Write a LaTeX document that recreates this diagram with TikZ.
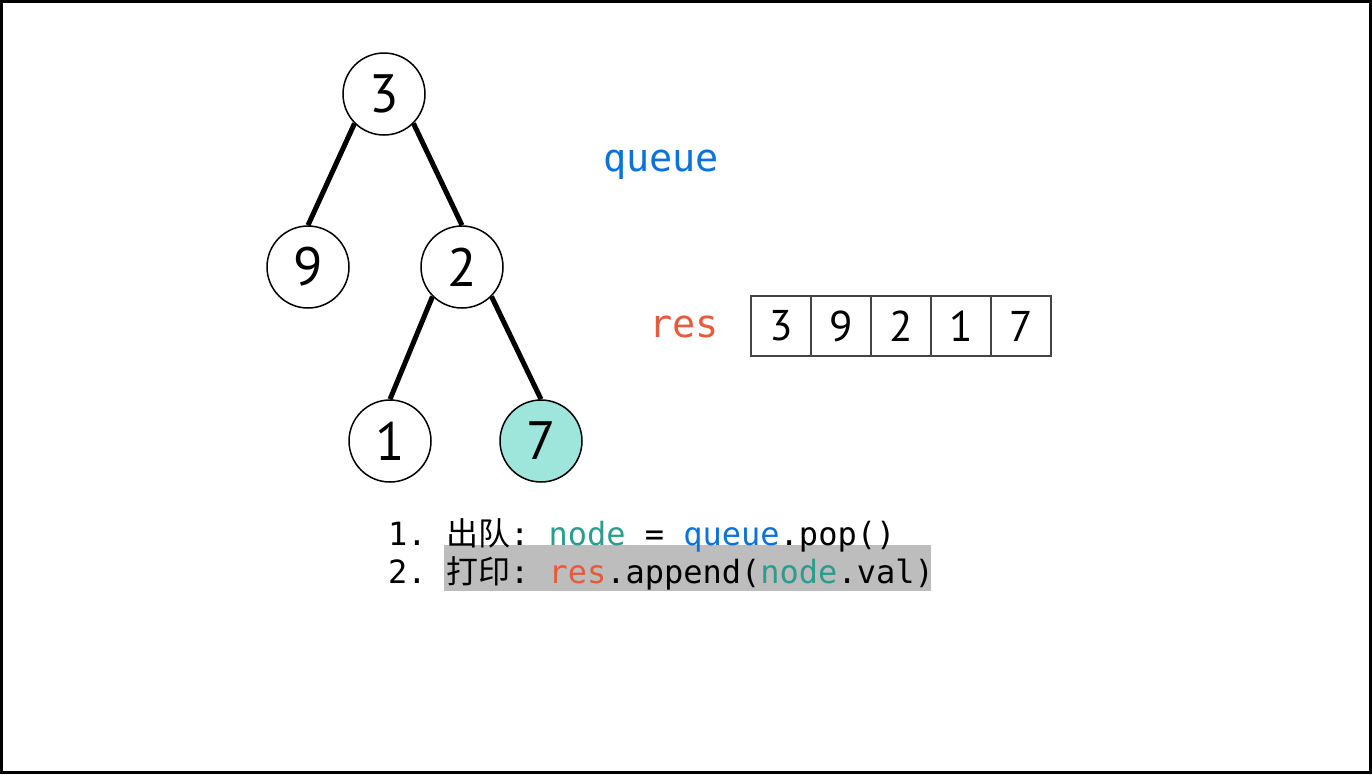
\documentclass[tikz,border=0pt]{standalone}
\usepackage{fontspec}
\setmainfont{PT Sans}
\setmonofont{DejaVu Sans Mono}
\newfontfamily\cjk{Noto Sans CJK SC}
\definecolor{qblue}{HTML}{0A73DB}
\definecolor{rorange}{HTML}{E55B3C}
\definecolor{nteal}{HTML}{2A9D8F}
\definecolor{hlgrey}{HTML}{BDBDBD}
\definecolor{leaffill}{HTML}{9EE5DC}
\definecolor{cellborder}{HTML}{444444}
\begin{document}
\begin{tikzpicture}[x=1pt,y=-1pt,
  tnode/.style={circle, draw, line width=1.5pt, minimum size=82pt, inner sep=0pt, fill=white, font=\fontsize{54}{54}\selectfont},
  tedge/.style={line width=5pt},
  cell/.style={draw=cellborder, line width=1.8pt, minimum size=60pt, inner sep=0pt, font=\fontsize{43}{43}\selectfont},
  code/.style={anchor=base west, inner sep=0pt, font=\fontsize{32}{32}\ttfamily},
  lbl/.style={anchor=base west, inner sep=0pt, font=\fontsize{38.5}{38.5}\ttfamily}
]
\path[use as bounding box] (0,0) rectangle (1372,774);
\draw[line width=3pt] (1.5,1.5) rectangle (1370.5,772.5);

% tree
\node[tnode] (n3) at (384,94) {3};
\node[tnode] (n9) at (308,267) {9};
\node[tnode] (n2) at (462,267) {2};
\node[tnode] (n1) at (390,441) {1};
\node[tnode, fill=leaffill] (n7) at (541,441) {7};
\draw[tedge] (n3.225) -- (n9.north);
\draw[tedge] (n3.315) -- (n2.north);
\draw[tedge] (n2.225) -- (n1.north);
\draw[tedge] (n2.315) -- (n7.north);

% labels
\node[lbl, text=qblue] (queue) at (603,171) {queue};
\node[lbl, text=rorange] (res) at (649,337) {res};

% result array
\node[cell] (c1) at (781,326) {3};
\node[cell] (c2) at (841,326) {9};
\node[cell] (c3) at (901,326) {2};
\node[cell] (c4) at (961,326) {1};
\node[cell] (c5) at (1021,326) {7};

% code
\fill[hlgrey] (444,545) rectangle (931,591);
\node[code] (l1) at (388,545) {1. {\cjk 出队}: \textcolor{nteal}{node} = \textcolor{qblue}{queue}.pop()};
\node[code] (l2) at (388,583) {2. {\cjk 打印}: \textcolor{rorange}{res}.append(\textcolor{nteal}{node}.val)};
\end{tikzpicture}
\end{document}
